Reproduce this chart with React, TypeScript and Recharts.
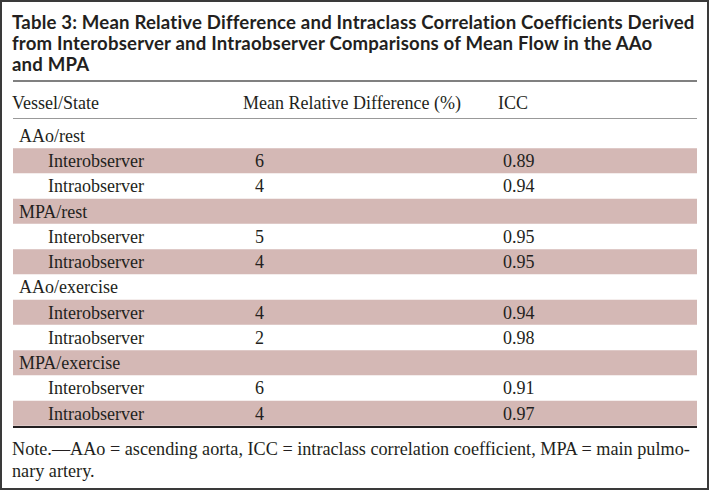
import { BarChart, Bar, XAxis, YAxis } from "recharts";

// table rows, read top to bottom
const rowLabels = [
  "AAo/rest",
  "Interobserver",
  "Intraobserver",
  "MPA/rest",
  "Interobserver",
  "Intraobserver",
  "AAo/exercise",
  "Interobserver",
  "Intraobserver",
  "MPA/exercise",
  "Interobserver",
  "Intraobserver",
];
const rowIsGroup = [true, false, false, true, false, false, true, false, false, true, false, false];
const meanRelDiff = ["", "6", "4", "", "5", "4", "", "4", "2", "", "6", "4"];
const iccValues = ["", "0.89", "0.94", "", "0.95", "0.95", "", "0.94", "0.98", "", "0.91", "0.97"];
const rowShaded = [false, true, false, true, false, true, false, true, false, true, false, true];

const titleLines = [
  "Table 3: Mean Relative Difference and Intraclass Correlation Coefficients Derived",
  "from Interobserver and Intraobserver Comparisons of Mean Flow in the AAo",
  "and MPA",
];
const headers = ["Vessel/State", "Mean Relative Difference (%)", "ICC"];
const noteLines = [
  "Note.\u2014AAo = ascending aorta, ICC = intraclass correlation coefficient, MPA = main pulmo-",
  "nary artery.",
];

const data = rowLabels.map((label, i) => ({
  key: String(i),
  label,
  group: rowIsGroup[i],
  mrd: meanRelDiff[i],
  icc: iccValues[i],
  shaded: rowShaded[i],
  full: 1,
}));

const W = 709;
const H = 490;
const serif = "'Liberation Serif', 'DejaVu Serif', serif";
const textColor = "#231f20";
const shadeColor = "#d4b8b5";

// one bar per row: draws the row band (shaded or not) and its three cells
function RowShape(props: any) {
  const { x, y, width, height, payload } = props;
  const cy = y + height / 2;
  return (
    <g>
      {payload.shaded && <rect x={x} y={y} width={width} height={height} fill={shadeColor} />}
      <g fontFamily={serif} fontSize={18} fill={textColor}>
        <text x={payload.group ? 19 : 48} y={cy} dy="0.35em">
          {payload.label}
        </text>
        <text x={255} y={cy} dy="0.35em">
          {payload.mrd}
        </text>
        <text x={503} y={cy} dy="0.35em">
          {payload.icc}
        </text>
      </g>
    </g>
  );
}

export default function App() {
  return (
    <div
      style={{
        position: "absolute",
        left: 0,
        top: 0,
        width: W,
        height: H,
        boxSizing: "border-box",
        border: "2px solid #3a3a3a",
        background: "#fff",
        color: textColor,
        overflow: "hidden",
      }}
    >
      <div
        style={{
          position: "absolute",
          left: 10,
          top: 10,
          fontFamily: "Lato, 'Noto Sans', sans-serif",
          fontWeight: 700,
          fontSize: 18.6,
          letterSpacing: 0.18,
          lineHeight: "21px",
          whiteSpace: "nowrap",
        }}
      >
        {titleLines.map((t) => (
          <div key={t}>{t}</div>
        ))}
      </div>
      <div style={{ position: "absolute", left: 11, right: 10, top: 78, height: 2, background: "#808080" }} />
      <div
        style={{
          position: "absolute",
          left: 10,
          top: 91,
          width: 690,
          height: 20,
          fontFamily: serif,
          fontSize: 18,
          lineHeight: "20px",
          whiteSpace: "nowrap",
        }}
      >
        <span style={{ position: "absolute", left: 0 }}>{headers[0]}</span>
        <span style={{ position: "absolute", left: 231 }}>{headers[1]}</span>
        <span style={{ position: "absolute", left: 486 }}>{headers[2]}</span>
      </div>
      <div style={{ position: "absolute", left: 11, right: 10, top: 116, height: 1, background: "#999" }} />
      <div style={{ position: "absolute", left: -2, top: -2 }}>
        <BarChart
          width={W}
          height={H}
          data={data}
          layout="vertical"
          barCategoryGap={0}
          margin={{ top: 123, right: 12, bottom: 64, left: 13 }}
        >
          <XAxis type="number" domain={[0, 1]} hide />
          <YAxis type="category" dataKey="key" hide />
          <Bar dataKey="full" shape={<RowShape />} isAnimationActive={false} />
        </BarChart>
      </div>
      <div style={{ position: "absolute", left: 11, right: 10, top: 424, height: 2, background: "#231f20" }} />
      <div
        style={{
          position: "absolute",
          left: 10,
          top: 436,
          fontFamily: serif,
          fontSize: 18.2,
          lineHeight: "22px",
          whiteSpace: "nowrap",
        }}
      >
        {noteLines.map((t) => (
          <div key={t}>{t}</div>
        ))}
      </div>
    </div>
  );
}
